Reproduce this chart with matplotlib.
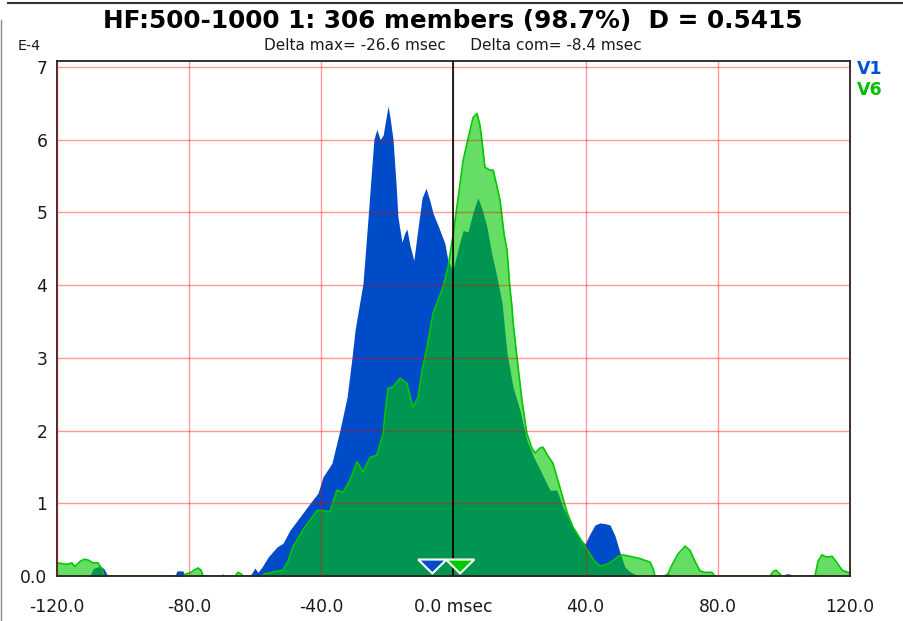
import numpy as np
import matplotlib
matplotlib.use("Agg")
import matplotlib.pyplot as plt
from matplotlib.lines import Line2D

# V1 (blue) curve, msec vs value (E-4)
v1_x = [-120.0, -110.0, -109.1, -107.0, -105.8, -104.6, -84.3, -83.7, -81.9, -81.3,
        -70.4, -69.8, -68.9, -61.6, -60.1, -59.2, -58.0, -56.1, -53.4, -51.6,
        -49.5, -46.5, -43.4, -41.0, -39.5, -36.8, -34.4, -32.2, -30.7, -29.8,
        -28.6, -27.4, -25.9, -25.0, -24.1, -23.2, -22.2, -21.3, -20.4, -19.8,
        -19.2, -18.3, -17.4, -16.8, -15.6, -14.7, -14.1, -13.2, -12.0, -10.7,
        -9.5, -8.3, -7.1, -6.2, -4.1, -2.6, -1.7, -0.2, 1.4, 2.9,
        4.4, 5.9, 7.4, 8.6, 10.1, 11.7, 13.2, 14.7, 16.2, 18.0,
        20.1, 22.2, 24.1, 26.2, 29.2, 31.3, 33.1, 36.2, 38.3, 39.8,
        41.3, 42.8, 44.3, 45.9, 47.4, 48.9, 50.4, 51.9, 53.4, 55.8,
        63.4, 64.0, 65.2, 65.8, 99.7, 100.6, 101.8, 102.4, 120.0]
v1_y = [0.0, 0.0, 0.10, 0.14, 0.10, 0.0, 0.0, 0.07, 0.07, 0.0,
        0.0, 0.03, 0.0, 0.0, 0.11, 0.05, 0.12, 0.26, 0.40, 0.45,
        0.63, 0.81, 1.00, 1.14, 1.36, 1.55, 2.00, 2.46, 3.01, 3.38,
        3.70, 4.02, 4.90, 5.45, 6.00, 6.14, 6.00, 6.06, 6.30, 6.46,
        6.30, 6.00, 5.40, 4.93, 4.59, 4.72, 4.77, 4.55, 4.34, 4.80,
        5.20, 5.33, 5.15, 4.99, 4.75, 4.57, 4.34, 4.20, 4.50, 4.75,
        4.73, 5.00, 5.20, 5.05, 4.80, 4.40, 4.10, 3.75, 3.06, 2.60,
        2.28, 1.87, 1.65, 1.46, 1.18, 1.18, 0.95, 0.67, 0.52, 0.44,
        0.58, 0.70, 0.73, 0.72, 0.70, 0.55, 0.32, 0.12, 0.06, 0.0,
        0.0, 0.03, 0.03, 0.0, 0.0, 0.03, 0.03, 0.0, 0.0]

# V6 (green) curve
v6_x = [-120.0, -118.5, -117.0, -115.5, -114.6, -113.0, -111.8, -110.6, -109.1, -107.6,
        -106.4, -105.8, -81.9, -81.0, -79.8, -78.5, -77.3, -76.4, -75.8, -66.1,
        -65.2, -64.3, -63.7, -58.0, -57.1, -56.1, -51.6, -50.1, -48.6, -45.6,
        -41.3, -39.8, -37.4, -35.3, -33.4, -31.3, -29.2, -27.4, -25.3, -23.2,
        -21.3, -20.7, -19.8, -18.3, -16.2, -14.1, -12.3, -10.7, -9.5, -8.0,
        -7.1, -6.2, -3.2, -1.7, -0.2, 1.1, 2.0, 2.9, 4.1, 5.9,
        7.1, 8.0, 8.6, 9.5, 11.0, 12.0, 13.2, 14.1, 15.3, 16.2,
        17.1, 17.7, 18.0, 19.2, 20.7, 22.2, 23.8, 24.7, 26.2, 27.1,
        28.6, 30.1, 32.2, 34.4, 36.2, 39.2, 41.3, 42.8, 44.3, 45.9,
        48.0, 49.8, 51.3, 53.4, 56.4, 59.5, 60.4, 61.0, 64.0, 64.9,
        66.1, 67.9, 70.1, 71.6, 73.1, 74.6, 76.1, 78.2, 79.1, 95.8,
        96.7, 97.6, 98.5, 99.4, 109.4, 110.3, 111.5, 113.0, 114.6, 116.1,
        117.6, 118.8, 120.0]
v6_y = [0.18, 0.17, 0.16, 0.18, 0.13, 0.20, 0.23, 0.22, 0.18, 0.18,
        0.10, 0.0, 0.0, 0.03, 0.04, 0.08, 0.11, 0.08, 0.0, 0.0,
        0.05, 0.03, 0.0, 0.0, 0.03, 0.04, 0.08, 0.20, 0.40, 0.63,
        0.90, 0.90, 0.88, 1.18, 1.15, 1.32, 1.57, 1.43, 1.63, 1.66,
        1.96, 2.24, 2.58, 2.60, 2.72, 2.65, 2.32, 2.46, 2.83, 3.15,
        3.38, 3.61, 3.97, 4.24, 4.66, 5.10, 5.40, 5.71, 5.95, 6.30,
        6.36, 6.20, 5.99, 5.62, 5.58, 5.58, 5.35, 5.16, 4.70, 4.48,
        3.95, 3.70, 3.50, 3.01, 2.42, 1.96, 1.75, 1.69, 1.76, 1.77,
        1.65, 1.55, 1.22, 0.87, 0.67, 0.45, 0.30, 0.20, 0.14, 0.15,
        0.20, 0.27, 0.29, 0.27, 0.24, 0.19, 0.10, 0.0, 0.0, 0.03,
        0.15, 0.30, 0.41, 0.35, 0.20, 0.07, 0.05, 0.05, 0.0, 0.0,
        0.06, 0.08, 0.04, 0.0, 0.0, 0.20, 0.29, 0.26, 0.27, 0.18,
        0.08, 0.06, 0.04]

# centre-of-mass markers
com_x = [-6.4, 2.0]
com_colors = ["#004BC8", "#00C800"]

xticks = [-120, -80, -40, 0, 40, 80, 120]
xtick_labels = ["-120.0", "-80.0", "-40.0", "0.0 msec", "40.0", "80.0", "120.0"]
yticks = [0, 1, 2, 3, 4, 5, 6, 7]
ytick_labels = ["0.0", "1", "2", "3", "4", "5", "6", "7"]

blue = "#004BC8"
green = "#00C800"

fig = plt.figure(figsize=(9.04, 6.21), dpi=100)
ax = fig.add_axes([57 / 904, 45 / 621, 793 / 904, 515 / 621])

ax.fill_between(v1_x, 0, v1_y, color=blue, lw=0, zorder=1)
ax.fill_between(v6_x, 0, v6_y, color=green, alpha=0.6, lw=0, zorder=1.2)
ax.plot(v6_x, v6_y, color=green, lw=1.2, zorder=1.4)
ax.axvline(0, color="black", lw=1.2, zorder=3)

# triangle markers at the bottom
trans = ax.get_xaxis_transform()
for cx, col in zip(com_x, com_colors):
    ax.fill([cx - 4.3, cx + 4.3, cx], [0.032, 0.032, 0.005], color=col,
            ec="white", lw=1.5, transform=trans, zorder=4, clip_on=False)

ax.set_xlim(-120, 120)
ax.set_ylim(0, 7.08)
ax.set_xticks(xticks)
ax.set_xticklabels(xtick_labels)
ax.set_yticks(yticks)
ax.set_yticklabels(ytick_labels)
ax.tick_params(axis="x", length=0, pad=16, labelsize=12.3, labelcolor="#1a1a1a")
ax.tick_params(axis="y", length=0, pad=7, labelsize=12.3, labelcolor="#1a1a1a")
ax.set_axisbelow(False)
ax.grid(True, color="red", alpha=0.4, lw=1)
for s in ax.spines.values():
    s.set_color("#222222")
    s.set_linewidth(1.3)

fig.text(453 / 904, 1 - 21 / 621, "HF:500-1000 1: 306 members (98.7%)  D = 0.5415",
         ha="center", va="center", fontsize=17.8, fontweight="bold")
fig.text(452.5 / 904, 1 - 45 / 621, "Delta max= -26.6 msec     Delta com= -8.4 msec",
         ha="center", va="center", fontsize=11, color="#1a1a1a")
fig.text(29 / 904, 1 - 46 / 621, "E-4", ha="center", va="center", fontsize=10.3, color="#1a1a1a")
fig.text(857 / 904, 1 - 69 / 621, "V1", ha="left", va="center", fontsize=12.5,
         fontweight="bold", color="#0050D8")
fig.text(857 / 904, 1 - 90 / 621, "V6", ha="left", va="center", fontsize=12.5,
         fontweight="bold", color="#00C000")

# window frame lines
fig.add_artist(Line2D([8 / 904, 1], [1 - 3 / 621, 1 - 3 / 621], color="#333333", lw=1.5))
fig.add_artist(Line2D([1.5 / 904, 1.5 / 904], [0, 1 - 20 / 621], color="#888888", lw=1))

fig.savefig("out.png", dpi=100)
